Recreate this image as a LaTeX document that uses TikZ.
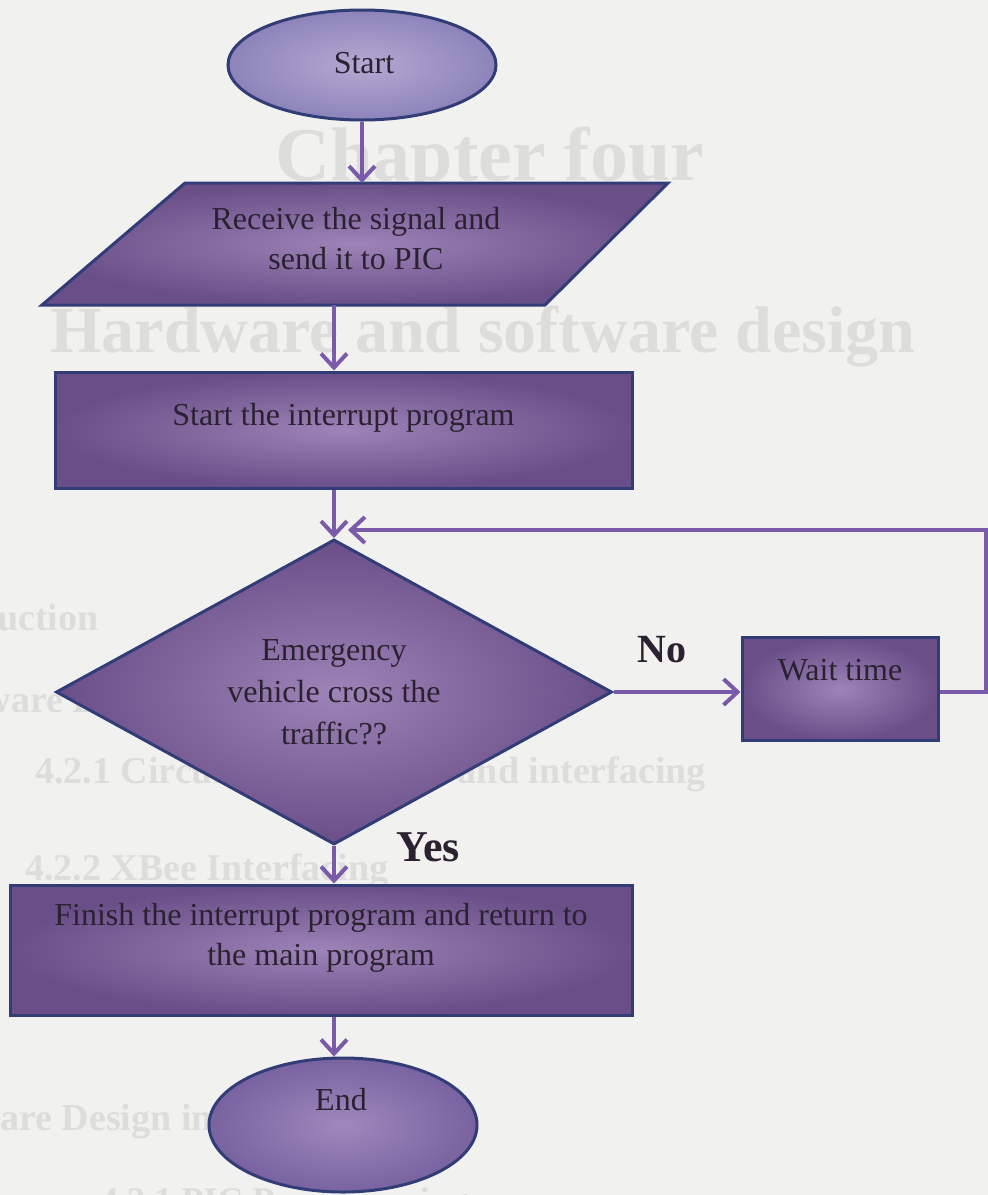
\documentclass[tikz,border=0pt]{standalone}
\usepackage{fontspec}
\setmainfont{Liberation Serif}
\usetikzlibrary{shapes.geometric,arrows.meta,calc}

\definecolor{paper}{HTML}{F1F1EF}
\definecolor{ghost}{HTML}{DDDDDB}
\definecolor{shapeIn}{HTML}{9D83B7}
\definecolor{shapeOut}{HTML}{6A4E88}
\definecolor{termIn}{HTML}{B6A8D2}
\definecolor{termOut}{HTML}{8C84BA}
\definecolor{endIn}{HTML}{A088BC}
\definecolor{endOut}{HTML}{7863A0}
\definecolor{rim}{HTML}{323D78}
\definecolor{flowc}{HTML}{7A5BAA}
\definecolor{ink}{HTML}{2A2231}

\tikzset{
  shapebox/.style={draw=rim, line width=1.5pt, shade, inner color=shapeIn,
    outer color=shapeOut, inner sep=0pt},
  terminal/.style={shapebox, ellipse, inner color=termIn, outer color=termOut},
  endterm/.style={shapebox, ellipse, inner color=endIn, outer color=endOut},
  txt/.style={font=\fontsize{16}{20}\selectfont, text=ink, align=center, inner sep=0pt},
  flowline/.style={draw=flowc, line width=2pt,
    -{Straight Barb[length=7pt,width=13pt]}},
  answer/.style={font=\bfseries\fontsize{20}{24}\selectfont, text=ink, inner sep=0pt},
  faint/.style={font=\bfseries, text=ghost, inner sep=0pt}
}

\begin{document}
\begin{tikzpicture}[x=0.5pt,y=-0.5pt]
  % page
  \path[use as bounding box] (0,0) rectangle (988,1195);
  \clip (0,0) rectangle (988,1195);
  \fill[paper] (0,0) rectangle (988,1195);

  % headings printed on the page underneath the chart
  \node[faint, font=\bfseries\fontsize{38}{40}\selectfont, anchor=base] (h1) at (490,180) {Chapter four};
  \node[faint, font=\bfseries\fontsize{33}{36}\selectfont, anchor=base west] (h2) at (50,352) {Hardware and software design};
  \node[faint, font=\bfseries\fontsize{19}{22}\selectfont, anchor=base west] (h3) at (-165,630) {4.1 Introduction};
  \node[faint, font=\bfseries\fontsize{19}{22}\selectfont, anchor=base west] (h4) at (-160,712) {4.2 Hardware Design};
  \node[faint, font=\bfseries\fontsize{19}{22}\selectfont, anchor=base west] (h5) at (35,783) {4.2.1 Circuit construction and interfacing};
  \node[faint, font=\bfseries\fontsize{19}{22}\selectfont, anchor=base west] (h6) at (25,880) {4.2.2 XBee Interfacing};
  \node[faint, font=\bfseries\fontsize{19}{22}\selectfont, anchor=base west] (h7) at (-150,1130) {4.3 Software Design in};
  \node[faint, font=\bfseries\fontsize{18}{22}\selectfont, anchor=base west] (h8) at (100,1212) {4.3.1 PIC Programming};

  % start terminal
  \node[terminal, minimum width=134pt, minimum height=55pt] (start) at (362,65) {};
  \node[txt] (start-t) at (364,63) {Start};

  % input/output parallelogram
  \coordinate (io-tl) at (185,183);
  \coordinate (io-tr) at (668,183);
  \coordinate (io-br) at (545,305);
  \coordinate (io-bl) at (42,305);
  \path[shapebox] (io-tl) -- (io-tr) -- (io-br) -- (io-bl) -- cycle;
  \node[txt] (io-t) at (356,239) {Receive the signal and\\send it to PIC};

  % interrupt start
  \node[shapebox, minimum width=288.5pt, minimum height=58pt] (intr) at (343.5,430) {};
  \node[txt] (intr-t) at (343.5,418) {Start the interrupt program};

  % decision
  \node[shapebox, diamond, minimum width=278pt, minimum height=152.5pt] (dec) at (334,692) {};
  \node[txt, font=\fontsize{16}{21}\selectfont] (dec-t) at (334,692) {Emergency\\vehicle cross the\\traffic??};

  % waiting step
  \node[shapebox, minimum width=98pt, minimum height=51.5pt] (wait) at (840,689) {};
  \node[txt] (wait-t) at (840,670) {Wait time};

  % finishing step
  \node[shapebox, minimum width=311pt, minimum height=65pt] (fin) at (321,950) {};
  \node[txt] (fin-t) at (321,938) {Finish the interrupt program and return to\\the main program};

  % end terminal
  \node[endterm, minimum width=134pt, minimum height=67pt] (end) at (343,1125) {};
  \node[txt] (end-t) at (341,1100) {End};

  % branch labels
  \node[answer] (no) at (662,650) {No};
  \node[answer, font=\bfseries\fontsize{22}{26}\selectfont] (yes) at (428,847) {Yes};

  % connectors
  \coordinate (join) at (348,530);
  \coordinate (rail) at (986,0);
  \draw[flowline] (start.south) -- (start.south |- io-tl);
  \draw[flowline] (dec.north |- io-bl) -- (dec.north |- intr.north);
  \draw[flowline] (dec.north |- intr.south) -- (dec.north);
  \draw[flowline] (dec.east) -- (dec.east -| wait.west);
  \draw[flowline] (wait.east |- dec.east) -- (rail |- dec.east) -- (rail |- join) -- (join);
  \draw[flowline] (dec.south) -- (dec.south |- fin.north);
  \draw[flowline] (dec.south |- fin.south) -- (dec.south |- end.north);
\end{tikzpicture}
\end{document}
